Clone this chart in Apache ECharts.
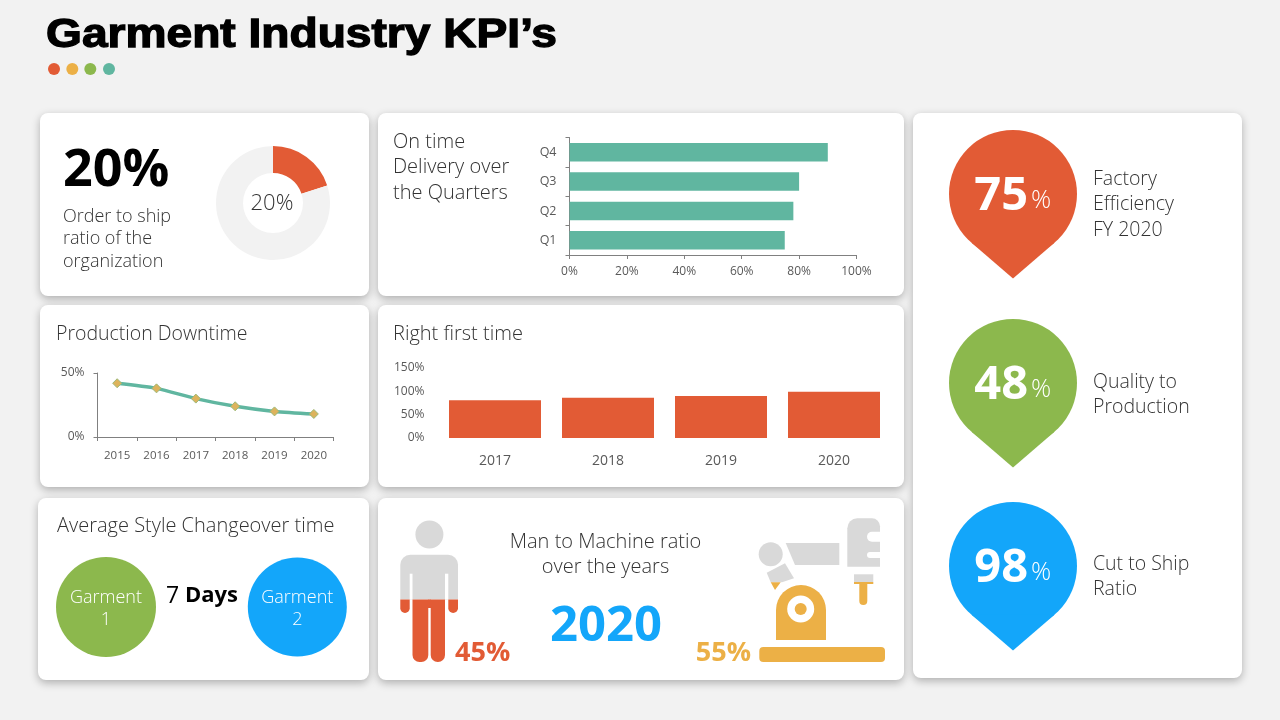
<!DOCTYPE html>
<html>
<head>
<meta charset="utf-8">
<title>Garment Industry KPI's</title>
<style>html,body{margin:0;padding:0;background:#f2f2f2}#main{width:1280px;height:720px}</style>
<script src="https://cdn.jsdelivr.net/npm/echarts@6/dist/echarts.min.js"></script>
</head>
<body>
<div id="main"></div>
<script>
var orderShare = [20, 80]
var quarters = ['Q1', 'Q2', 'Q3', 'Q4']
var onTime = [75, 78, 80, 90]
var downtimeYears = ['2015', '2016', '2017', '2018', '2019', '2020']
var downtime = [42, 38, 30, 24, 20, 18]
var rftYears = ['2017', '2018', '2019', '2020']
var rightFirst = [81, 86, 90, 99]
var pinValues = [75, 48, 98]
var pinLabels = [['Factory', 'Efficiency', 'FY 2020'], ['Quality to', 'Production'], ['Cut to Ship', 'Ratio']]
var manShare = 45
var machineShare = 55
var ratioYear = '2020'
var changeoverDays = 7

const ORANGE = '#E25B35', GREEN = '#8CB84D', BLUE = '#13A6FA', TEAL = '#60B6A0', GOLD = '#ECB046', GREY = '#D9D9D9'
const FONT = '"Open Sans", sans-serif'
const INK = '#333333', AXIS = '#808080', TICK = '#595959'

const text = (x, y, str, size, opts) => {
    opts = opts || {}
    return {
        type: 'text', z: 5, x: x, y: y + 1,
        style: {
            text: str, fontFamily: opts.font || FONT, fontSize: size, fontWeight: opts.weight || 300,
            fill: opts.color || INK, align: opts.align || 'left', verticalAlign: 'middle'
        }
    }
}
const rect = (x0, y0, x1, y1, fill, r) => ({
    type: 'rect', z: 4,
    shape: { x: x0, y: y0, width: x1 - x0, height: y1 - y0, r: r || 0 },
    style: { fill: fill }
})
const circle = (cx, cy, r, fill, z) => ({
    type: 'circle', z: z || 4, shape: { cx: cx, cy: cy, r: r }, style: { fill: fill }
})
const poly = (points, fill) => ({
    type: 'polygon', z: 4, shape: { points: points }, style: { fill: fill }
})
const card = (x0, y0, x1, y1) => ({
    type: 'rect', z: 0,
    shape: { x: x0, y: y0, width: x1 - x0, height: y1 - y0, r: 8 },
    style: { fill: '#fff', shadowBlur: 9, shadowOffsetY: 3, shadowColor: 'rgba(0,0,0,0.28)' }
})

// pin marker: circle plus a triangle from the tangent points down to the tip
const pin = (cy, color, value, labels, labelY) => {
    let cx = 1013, r = 64, tip = cy + 84.5
    let out = [
        circle(cx, cy, r, color),
        poly([[cx - 41.5, cy + 48.8], [cx + 41.5, cy + 48.8], [cx, tip]], color)
    ]
    out.push(text(1028, cy + 2, String(value), 47, { weight: 700, color: '#fff', align: 'right' }))
    out.push(text(1031, cy + 6, '%', 25, { color: '#fff' }))
    labels.forEach((l, i) => out.push(text(1093, labelY + i * 25.5, l, 19.5)))
    return out
}

let title = text(46, 35, "Garment Industry KPI\u2019s", 41, { font: '"Liberation Sans", Arial, sans-serif', weight: 700, color: '#000' })
title.scaleX = 1.125
title.style.stroke = '#000'
title.style.lineWidth = 1.3

let shapes = [
    card(40, 113, 369, 296), card(378, 113, 904, 296),
    card(40, 305, 369, 487), card(378, 305, 904, 487),
    card(38, 498, 369, 680), card(378, 498, 904, 680),
    card(913, 113, 1242, 678),

    title,
    circle(54, 69, 6, ORANGE), circle(72.3, 69, 6, GOLD), circle(90.3, 69, 6, GREEN), circle(109, 69, 6, TEAL),

    text(63, 170, orderShare[0] + '%', 52, { weight: 700, color: '#000' }),
    text(63, 216, 'Order to ship', 18), text(63, 238, 'ratio of the', 18), text(63, 261, 'organization', 18),
    text(272, 203, orderShare[0] + '%', 22, { align: 'center' }),

    text(393, 141, 'On time', 20), text(393, 166, 'Delivery over', 20), text(393, 192, 'the Quarters', 20),
    text(56, 333, 'Production Downtime', 19.5),
    text(393, 333, 'Right first time', 20),
    text(57, 525, 'Average Style Changeover time', 20),

    circle(106, 607, 50, GREEN), circle(297.3, 607, 49.5, BLUE),
    text(106, 597, 'Garment', 18, { color: '#fff', align: 'center' }), text(106, 619, '1', 18, { color: '#fff', align: 'center' }),
    text(297.3, 597, 'Garment', 18, { color: '#fff', align: 'center' }), text(297.3, 619, '2', 18, { color: '#fff', align: 'center' }),
    text(166, 595, String(changeoverDays), 23, { weight: 400, color: '#000' }),
    text(185, 595, 'Days', 22, { weight: 700, color: '#000' }),

    text(605.5, 541, 'Man to Machine ratio', 20, { align: 'center' }),
    text(605.5, 566, 'over the years', 20, { align: 'center' }),
    text(606, 626, ratioYear, 49, { weight: 700, color: BLUE, align: 'center' }),
    text(455, 652, manShare + '%', 27, { weight: 700, color: ORANGE }),
    text(751, 652, machineShare + '%', 27, { weight: 700, color: GOLD, align: 'right' }),

    // man figure
    circle(429.4, 534.5, 14, GREY),
    rect(400.3, 554.8, 458, 599.4, GREY, [10, 10, 0, 0]),
    rect(409.7, 573.7, 412.5, 599.4, '#fff'), rect(445, 573.7, 448.3, 599.4, '#fff'),
    rect(400.3, 599.4, 409.7, 613, ORANGE, [0, 0, 5, 5]), rect(448.3, 599.4, 458, 613, ORANGE, [0, 0, 5, 5]),
    rect(412.5, 599.4, 428.3, 662, ORANGE, [0, 0, 7, 7]), rect(430.7, 599.4, 445, 662, ORANGE, [0, 0, 7, 7]),
    rect(428, 599.4, 431, 608, ORANGE),

    // robot arm
    circle(770.7, 554.3, 12, GREY),
    poly([[785.7, 543], [839.3, 543], [839.3, 565], [795, 565]], GREY),
    poly([[766.7, 572.7], [785, 563.3], [794, 578.3], [782, 582.3], [770.7, 582.3]], GREY),
    poly([[770.7, 582.3], [780.7, 582.3], [775, 590]], GOLD),
    circle(801, 610, 25, GOLD),
    rect(776, 610, 826, 640, GOLD),
    circle(800.7, 609, 13.5, '#fff', 5), circle(800.7, 609, 6, GOLD, 6),
    rect(759.3, 647, 885, 662, GOLD, 4),
    rect(847.3, 518.3, 880, 566.7, GREY, [10, 8, 0, 0]),
    rect(867, 531.7, 880, 541.7, '#fff', [5, 0, 0, 5]), rect(867, 552, 880, 558, '#fff', [3, 0, 0, 3]),
    rect(854, 574.3, 873.3, 582, GREY),
    rect(854, 582, 873.3, 584, GOLD),
    rect(859.3, 584, 867.3, 605, GOLD, [0, 0, 4, 4])
]
shapes = shapes.concat(
    pin(194, ORANGE, pinValues[0], pinLabels[0], 178),
    pin(383, GREEN, pinValues[1], pinLabels[1], 381),
    pin(566, BLUE, pinValues[2], pinLabels[2], 563)
)

const axisBits = (show) => ({
    axisLine: { show: show, lineStyle: { color: AXIS, width: 1 } },
    axisTick: { show: show, length: 4, lineStyle: { color: AXIS, width: 1 } },
    splitLine: { show: false }
})
const labelBits = (size, margin, fmt) => ({
    axisLabel: { fontFamily: FONT, fontWeight: 400, fontSize: size, color: TICK, margin: margin, formatter: fmt, hideOverlap: false }
})

let option = {
    animation: false,
    backgroundColor: '#f2f2f2',
    graphic: { elements: shapes },
    grid: [
        { left: 569.5, top: 137.5, width: 287, height: 117.5 },
        { left: 97.5, top: 373, width: 236, height: 64 },
        { left: 438.5, top: 368, width: 452, height: 70 }
    ],
    xAxis: [
        Object.assign({ type: 'value', gridIndex: 0, min: 0, max: 100, interval: 20 }, axisBits(true), labelBits(12, 11, '{value}%')),
        Object.assign({ type: 'category', gridIndex: 1, data: downtimeYears }, axisBits(true), labelBits(11.5, 13)),
        Object.assign({ type: 'category', gridIndex: 2, data: rftYears }, axisBits(false), labelBits(14, 16))
    ],
    yAxis: [
        Object.assign({ type: 'category', gridIndex: 0, data: quarters }, axisBits(true), labelBits(12.5, 13)),
        Object.assign({ type: 'value', gridIndex: 1, min: 0, max: 50, interval: 50 }, axisBits(true), labelBits(12, 13, '{value}%')),
        Object.assign({ type: 'value', gridIndex: 2, min: 0, max: 150, interval: 50 }, axisBits(false), labelBits(12, 14, '{value}%'))
    ],
    series: [
        {
            type: 'pie', center: [273, 203], radius: [30, 57], startAngle: 90, clockwise: true, silent: true,
            label: { show: false }, labelLine: { show: false },
            data: [
                { value: orderShare[0], itemStyle: { color: ORANGE } },
                { value: orderShare[1], itemStyle: { color: '#f2f2f2' } }
            ]
        },
        {
            type: 'bar', xAxisIndex: 0, yAxisIndex: 0, data: onTime, barWidth: 18.5,
            itemStyle: { color: TEAL }
        },
        {
            type: 'line', xAxisIndex: 1, yAxisIndex: 1, data: downtime, smooth: 0.25,
            symbol: 'diamond', symbolSize: 9,
            lineStyle: { color: TEAL, width: 3.5 },
            itemStyle: { color: '#DDB35C', borderColor: '#9DB978', borderWidth: 1 }
        },
        {
            type: 'bar', xAxisIndex: 2, yAxisIndex: 2, data: rightFirst, barWidth: 92,
            itemStyle: { color: ORANGE }
        }
    ]
}

let chart_d = echarts.init(document.getElementById('main'), null, { renderer: 'canvas' })
chart_d.setOption(option)
</script>
</body>
</html>
